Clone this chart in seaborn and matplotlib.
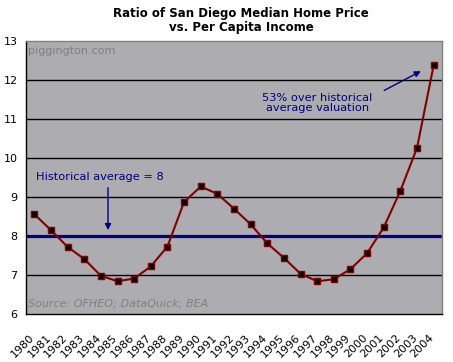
import numpy as np
import pandas as pd
import seaborn as sns
import matplotlib.pyplot as plt
import matplotlib.transforms as mtransforms

years = [str(y) for y in range(1980, 2005)]
ratio = [8.56, 8.15, 7.72, 7.41, 6.98, 6.84, 6.91, 7.22, 7.73, 8.87,
         9.27, 9.08, 8.70, 8.30, 7.81, 7.44, 7.03, 6.84, 6.89, 7.15,
         7.56, 8.22, 9.16, 10.26, 12.38]
hist_avg = 8

df = pd.DataFrame({"idx": np.arange(len(years)), "ratio": ratio})

sns.set_style("white")
plt.rcParams["font.family"] = ["DejaVu Sans"]
plt.rcParams["text.color"] = "black"
plt.rcParams["xtick.color"] = "black"
plt.rcParams["ytick.color"] = "black"

fig = plt.figure(figsize=(4.53, 3.62), dpi=100)
ax = fig.add_axes([0.0574, 0.1326, 0.9183, 0.7541])
ax.set_facecolor("#adacb1")

for v in range(7, 13):
    ax.axhline(v, color="black", lw=1, zorder=1)
ax.axhline(hist_avg, color="#000080", lw=2.3, zorder=2)

sns.lineplot(data=df, x="idx", y="ratio", ax=ax, color="#800000", lw=1.5,
             marker="s", markersize=4.5, markerfacecolor="black",
             markeredgecolor="#800000", markeredgewidth=1, zorder=3)

ax.set_xlim(-0.5, len(years) - 0.5)
ax.set_ylim(6, 13)
ax.set_yticks(range(6, 14))
ax.set_xticks(df["idx"])
ax.set_xticklabels(years, rotation=45, ha="right", rotation_mode="anchor")
ax.set_xticks(np.arange(-0.5, len(years)), minor=True)
ax.tick_params(axis="x", which="major", length=0, pad=13, labelsize=8, labelcolor="black")
ax.tick_params(axis="x", which="minor", length=4, width=1, color="black", direction="out")
ax.tick_params(axis="y", length=4, width=1, color="black", direction="out",
               labelsize=8, pad=2, labelcolor="black")
ax.set_xlabel("")
ax.set_ylabel("")

shift = mtransforms.ScaledTranslation(-0.05, 0, fig.dpi_scale_trans)
for lab in ax.get_xticklabels():
    lab.set_transform(lab.get_transform() + shift)

for side in ["top", "right"]:
    ax.spines[side].set_color("#808080")
    ax.spines[side].set_linewidth(1)
for side in ["left", "bottom"]:
    ax.spines[side].set_color("black")
    ax.spines[side].set_linewidth(1)

fig.text(0.532, 0.982, "Ratio of San Diego Median Home Price\nvs. Per Capita Income",
         ha="center", va="top", fontsize=8.5, fontweight="bold", linespacing=1.1,
         color="black")

ax.text(0.006, 0.965, "piggington.com", transform=ax.transAxes, color="#808080",
        fontsize=8, ha="left", va="center")
ax.text(0.006, 0.037, "Source: OFHEO; DataQuick; BEA", transform=ax.transAxes,
        color="#808080", fontsize=8, style="italic", ha="left", va="center")

ax.text(0.08, 9.52, "Historical average = 8", color="#000080", fontsize=8.2,
        ha="left", va="center")
ax.annotate("", xy=(4.43, 8.08), xytext=(4.43, 9.31),
            arrowprops=dict(arrowstyle="-|>", color="#000080", lw=1,
                            mutation_scale=9))

ax.text(17.0, 11.42, "53% over historical\naverage valuation", color="#000080",
        fontsize=8.2, ha="center", va="center", linespacing=1.0)
ax.annotate("", xy=(23.38, 12.26), xytext=(20.88, 11.70),
            arrowprops=dict(arrowstyle="-|>", color="#000080", lw=1,
                            mutation_scale=9))

fig.savefig("out.png", dpi=100, facecolor="white")
